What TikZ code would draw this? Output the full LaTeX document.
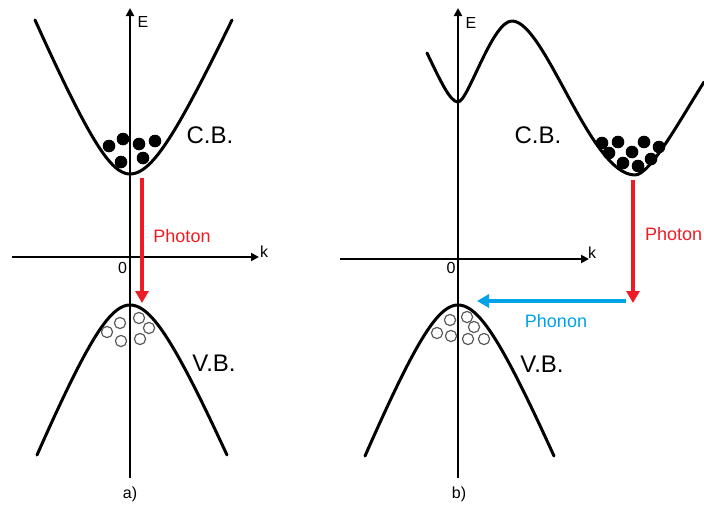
\documentclass[tikz,border=0pt]{standalone}
\usepackage{fontspec}
\setmainfont{Liberation Sans}
\usetikzlibrary{arrows.meta}
\definecolor{photonred}{HTML}{ED1C24}
\definecolor{phononblue}{HTML}{00A2E8}
\definecolor{holegray}{HTML}{5A5A5A}
\begin{document}
\begin{tikzpicture}[x=1pt,y=-1pt,
  axis/.style={line width=2.5pt,-{Triangle[width=8pt,length=8pt]}},
  band/.style={line width=3pt,line cap=round,line join=round},
  elec/.style={fill=black},
  hole/.style={draw=holegray,line width=1.2pt,fill=white},
  photonarrow/.style={draw=photonred,line width=4pt,-{Triangle[width=13pt,length=12pt]}},
  phononarrow/.style={draw=phononblue,line width=4pt,-{Triangle[width=13pt,length=12pt]}},
  bandlabel/.style={font=\fontsize{24}{28}\selectfont,inner sep=0pt},
  axlabel/.style={font=\fontsize{16}{19}\selectfont,inner sep=0pt},
  proclabel/.style={font=\fontsize{18}{22}\selectfont,inner sep=0pt}
]
\useasboundingbox (0,0) rectangle (704,506);

% ---------- panel a ----------
% conduction band
\draw[band] plot[domain=-1:0,samples=40] ({130+95*\x},{174-154*(sqrt(1+\x*\x/0.1505)-1)/1.765})
  -- plot[domain=0:1,samples=40] ({130+102*\x},{174-154*(sqrt(1+\x*\x/0.1505)-1)/1.765});
% valence band
\draw[band] plot[domain=-1:0,samples=40] ({130+93*\x},{305+150*(sqrt(1+\x*\x/0.189)-1)/1.508})
  -- plot[domain=0:1,samples=40] ({130+97*\x},{305+150*(sqrt(1+\x*\x/0.189)-1)/1.508});
% axes
\coordinate (a-vb) at (130,478);
\coordinate (a-vt) at (130,8);
\coordinate (a-hl) at (12,257);
\coordinate (a-hr) at (259,257);
\draw[axis] (a-vb) -- (a-vt);
\draw[axis] (a-hl) -- (a-hr);
% electrons
\foreach \p in {(109,146),(123,139),(139,144),(155,141),(121,162),(143,158)}
  \fill[elec] \p circle[radius=6.3pt];
% holes
\foreach \p in {(120,323),(107,332),(121,341),(139,318),(149,328),(140,339)}
  \draw[hole] \p circle[radius=5.6pt];
% photon
\coordinate (a-p1) at (142,178);
\coordinate (a-p2) at (142,303);
\draw[photonarrow] (a-p1) -- (a-p2);
% labels
\node[axlabel] (a-E) at (143,22) {E};
\node[axlabel] (a-k) at (264,252) {k};
\node[axlabel] (a-0) at (122.5,267.5) {0};
\node[bandlabel] (a-CB) at (210,135) {C.B.};
\node[bandlabel] (a-VB) at (214,363) {V.B.};
\node[proclabel,text=photonred] (a-ph) at (182,236) {Photon};
\node[axlabel] (a-cap) at (130,494) {a)};

% ---------- panel b ----------
% conduction band
\draw[band] (427,53) .. controls (440,80) and (450,102) .. (458,102)
  .. controls (468,102) and (492,21) .. (512,21)
  .. controls (545,21) and (590,175) .. (635,175)
  .. controls (650,175) and (680,120) .. (704,82);
% valence band
\draw[band] plot[domain=-1:0,samples=40] ({458+93*\x},{305+151*(sqrt(1+\x*\x/0.189)-1)/1.508})
  -- plot[domain=0:1,samples=40] ({458+96*\x},{305+151*(sqrt(1+\x*\x/0.189)-1)/1.508});
% axes
\coordinate (b-vb) at (458,478);
\coordinate (b-vt) at (458,8);
\coordinate (b-hl) at (340,259);
\coordinate (b-hr) at (589,259);
\draw[axis] (b-vb) -- (b-vt);
\draw[axis] (b-hl) -- (b-hr);
% electrons
\foreach \p in {(602,143),(618,142),(644,142),(659,147),(609,153),(632,152),(623,163),(638,166),(651,159)}
  \fill[elec] \p circle[radius=6.3pt];
% holes
\foreach \p in {(450,320),(467,317),(474,327),(437,333),(451,336),(468,339),(484,339)}
  \draw[hole] \p circle[radius=5.6pt];
% photon and phonon
\coordinate (b-p1) at (633,180);
\coordinate (b-p2) at (633,303);
\draw[photonarrow] (b-p1) -- (b-p2);
\coordinate (b-q1) at (626,301);
\coordinate (b-q2) at (477,301);
\draw[phononarrow] (b-q1) -- (b-q2);
% labels
\node[axlabel] (b-E) at (471,23) {E};
\node[axlabel] (b-k) at (592,253) {k};
\node[axlabel] (b-0) at (451,268) {0};
\node[bandlabel] (b-CB) at (538,135) {C.B.};
\node[bandlabel] (b-VB) at (542,364) {V.B.};
\node[proclabel,text=photonred,anchor=west] (b-ph) at (645,234) {Photon};
\node[proclabel,text=phononblue] (b-qn) at (556,321) {Phonon};
\node[axlabel] (b-cap) at (459,494) {b)};
\end{tikzpicture}
\end{document}
